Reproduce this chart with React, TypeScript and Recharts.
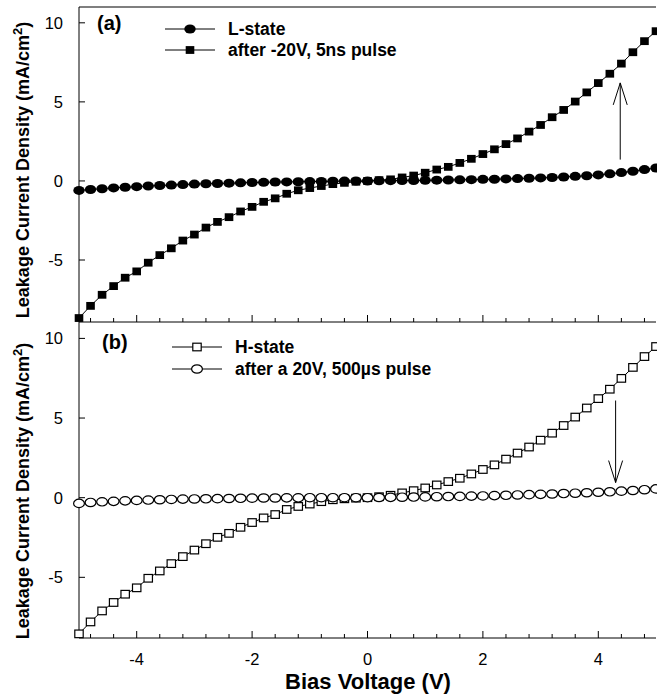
import React from "react"
import { LineChart, Line, XAxis, YAxis, ReferenceLine } from "recharts"

// bias voltage sweep (V)
const voltages = [
  -5, -4.8, -4.6, -4.4, -4.2, -4, -3.8, -3.6, -3.4, -3.2, -3, -2.8, -2.6, -2.4, -2.2, -2,
  -1.8, -1.6, -1.4, -1.2, -1, -0.8, -0.6, -0.4, -0.2, 0, 0.2, 0.4, 0.6, 0.8, 1, 1.2, 1.4,
  1.6, 1.8, 2, 2.2, 2.4, 2.6, 2.8, 3, 3.2, 3.4, 3.6, 3.8, 4, 4.2, 4.4, 4.6, 4.8, 5,
]

// panel (a), mA/cm^2
const lState = [
  -0.6, -0.54, -0.49, -0.44, -0.4, -0.36, -0.32, -0.29, -0.26, -0.23, -0.2, -0.18, -0.16,
  -0.14, -0.12, -0.1, -0.09, -0.07, -0.06, -0.05, -0.04, -0.03, -0.02, -0.01, 0, 0, 0.01,
  0.02, 0.03, 0.03, 0.04, 0.05, 0.06, 0.07, 0.08, 0.1, 0.11, 0.13, 0.15, 0.17, 0.19, 0.22,
  0.25, 0.29, 0.33, 0.38, 0.45, 0.53, 0.61, 0.72, 0.82,
]
const afterNs = [
  -8.67, -7.9, -7.2, -6.65, -6.12, -5.72, -5.17, -4.69, -4.26, -3.77, -3.39, -2.95, -2.59,
  -2.29, -1.93, -1.64, -1.32, -1.1, -0.81, -0.59, -0.45, -0.32, -0.2, -0.12, -0.05, 0,
  0.05, 0.1, 0.22, 0.34, 0.52, 0.72, 0.89, 1.14, 1.4, 1.7, 2.0, 2.33, 2.69, 3.12, 3.54,
  4.03, 4.49, 5.02, 5.6, 6.19, 6.78, 7.42, 8.14, 8.84, 9.47,
]

// panel (b), mA/cm^2
const hState = [
  -8.55, -7.8, -7.11, -6.58, -6.06, -5.66, -5.06, -4.6, -4.14, -3.7, -3.29, -2.89, -2.49,
  -2.24, -1.86, -1.56, -1.27, -1.06, -0.74, -0.55, -0.4, -0.25, -0.13, -0.07, -0.03, 0,
  0.06, 0.15, 0.3, 0.44, 0.61, 0.8, 1.01, 1.22, 1.49, 1.77, 2.06, 2.42, 2.8, 3.18, 3.61,
  4.05, 4.53, 5.06, 5.63, 6.22, 6.81, 7.49, 8.18, 8.86, 9.49,
]
const afterUs = [
  -0.36, -0.3, -0.26, -0.23, -0.2, -0.17, -0.15, -0.13, -0.11, -0.09, -0.08, -0.07, -0.06,
  -0.05, -0.04, -0.03, -0.02, -0.02, -0.01, -0.01, 0, 0, 0, 0, 0, 0, 0.01, 0.02, 0.03,
  0.04, 0.05, 0.06, 0.07, 0.08, 0.1, 0.11, 0.13, 0.15, 0.17, 0.19, 0.21, 0.23, 0.26, 0.28,
  0.31, 0.34, 0.37, 0.41, 0.45, 0.5, 0.55,
]

const xTicks = [
  -4.8, -4.4, -4, -3.6, -3.2, -2.8, -2.4, -2, -1.6, -1.2, -0.8, -0.4, 0, 0.4, 0.8, 1.2, 1.6,
  2, 2.4, 2.8, 3.2, 3.6, 4, 4.4, 4.8,
]
const xLabels = [-4, -2, 0, 2, 4]
const yTicks = [-5, 0, 5, 10]
const yDomainA = [-8.92, 11.0]
const yDomainB = [-8.81, 11.03]

const dataA = voltages.map((v, i) => ({ v, l: lState[i], p: afterNs[i] }))
const dataB = voltages.map((v, i) => ({ v, h: hState[i], p: afterUs[i] }))

const font = "'Liberation Sans', Arial, sans-serif"
const Y_MARGIN = 16

const solidCircle = (p: any) => (
  <ellipse key={p.index} cx={p.cx} cy={p.cy} rx={5.7} ry={4.5} fill="#000" />
)
const solidSquare = (p: any) => (
  <rect key={p.index} x={p.cx - 4.3} y={p.cy - 3.9} width={8.6} height={7.8} fill="#000" />
)
const openCircle = (p: any) => (
  <ellipse key={p.index} cx={p.cx} cy={p.cy} rx={5.4} ry={4.2} fill="#fff" stroke="#000" strokeWidth={1.2} />
)
const openSquare = (p: any) => (
  <rect key={p.index} x={p.cx - 4.2} y={p.cy - 3.8} width={8.4} height={7.6} fill="#fff" stroke="#000" strokeWidth={1.2} />
)

const xTick = (showLabel: boolean) => (p: any) => {
  const v = p.payload.value
  const major = xLabels.some((m) => Math.abs(m - v) < 1e-6)
  return (
    <g>
      <line x1={p.x} x2={p.x} y1={p.y} y2={p.y - (major ? 7 : 4)} stroke="#000" />
      {showLabel && major && (
        <text x={p.x} y={p.y + 27} textAnchor="middle" fontFamily={font} fontSize={16.5} fill="#000">
          {v}
        </text>
      )}
    </g>
  )
}

const yTick = (p: any) => (
  <g>
    <line x1={p.x + Y_MARGIN} x2={p.x + Y_MARGIN + 6} y1={p.y} y2={p.y} stroke="#000" />
    <text x={p.x} y={p.y + 6} textAnchor="end" fontFamily={font} fontSize={16.5} fill="#000">
      {p.payload.value}
    </text>
  </g>
)

const arrow = (p: any) => {
  const { x1, y1, x2, y2 } = p
  const len = Math.hypot(x2 - x1, y2 - y1) || 1
  const ux = (x2 - x1) / len
  const uy = (y2 - y1) / len
  const hx = x2 - ux * 22
  const hy = y2 - uy * 22
  return (
    <g stroke="#000" strokeWidth={1} fill="none">
      <line x1={x1} y1={y1} x2={x2} y2={y2} />
      <polyline points={`${hx - uy * 7},${hy + ux * 7} ${x2},${y2} ${hx + uy * 7},${hy - ux * 7}`} />
    </g>
  )
}

function LegendRow({ x, y, text, marker }: { x: number; y: number; text: string; marker: any }) {
  return (
    <g>
      <line x1={x} x2={x + 50} y1={y} y2={y} stroke="#000" />
      {marker({ cx: x + 25, cy: y, index: 0 })}
      <text x={x + 63} y={y + 6} fontFamily={font} fontWeight="bold" fontSize={17.5} fill="#000">
        {text}
      </text>
    </g>
  )
}

function YLabel({ cy }: { cy: number }) {
  return (
    <text
      transform={`translate(29, ${cy}) rotate(-90)`}
      textAnchor="middle"
      fontFamily={font}
      fontWeight="bold"
      fontSize={18}
      fill="#000"
    >
      Leakage Current Density (mA/cm
      <tspan dy={-7} fontSize={13}>2</tspan>
      <tspan dy={7}>)</tspan>
    </text>
  )
}

export default function App() {
  return (
    <div style={{ position: "absolute", left: 0, top: 0, width: 657, height: 695, overflow: "hidden", background: "#fff" }}>
      <div style={{ position: "absolute", left: 0, top: 0 }}>
        <LineChart width={700} height={330} data={dataA} margin={{ top: 7, right: 44, bottom: 0, left: 29 }}>
          <XAxis
            dataKey="v"
            type="number"
            domain={[-5, 5]}
            ticks={xTicks}
            interval={0}
            height={8}
            tickSize={0}
            tickMargin={0}
            tick={xTick(false)}
            axisLine={{ stroke: "#000" }}
          />
          <YAxis
            type="number"
            domain={yDomainA}
            ticks={yTicks}
            interval={0}
            width={50}
            tickSize={0}
            tickMargin={Y_MARGIN}
            tick={yTick}
            axisLine={{ stroke: "#000" }}
          />
          {/* top frame of panel (a) */}
          <ReferenceLine y={yDomainA[1]} stroke="#000" strokeWidth={1.2} ifOverflow="extendDomain" />
          <Line dataKey="p" stroke="#000" strokeWidth={1} dot={solidSquare} isAnimationActive={false} />
          <Line dataKey="l" stroke="#000" strokeWidth={1} dot={solidCircle} isAnimationActive={false} />
          <ReferenceLine segment={[{ x: 4.38, y: 1.35 }, { x: 4.38, y: 6.2 }]} shape={arrow} ifOverflow="visible" />
        </LineChart>
      </div>
      <div style={{ position: "absolute", left: 0, top: 0 }}>
        <LineChart width={700} height={695} data={dataB} margin={{ top: 322, right: 44, bottom: 0, left: 29 }}>
          <XAxis
            dataKey="v"
            type="number"
            domain={[-5, 5]}
            ticks={xTicks}
            interval={0}
            height={57}
            tickSize={0}
            tickMargin={0}
            tick={xTick(true)}
            axisLine={{ stroke: "#000" }}
          />
          <YAxis
            type="number"
            domain={yDomainB}
            ticks={yTicks}
            interval={0}
            width={50}
            tickSize={0}
            tickMargin={Y_MARGIN}
            tick={yTick}
            axisLine={{ stroke: "#000" }}
          />
          <Line dataKey="h" stroke="#000" strokeWidth={1} dot={openSquare} isAnimationActive={false} />
          <Line dataKey="p" stroke="#000" strokeWidth={1} dot={openCircle} isAnimationActive={false} />
          <ReferenceLine segment={[{ x: 4.3, y: 6.1 }, { x: 4.3, y: 0.95 }]} shape={arrow} ifOverflow="visible" />
        </LineChart>
      </div>
      <svg width={657} height={695} style={{ position: "absolute", left: 0, top: 0, pointerEvents: "none" }}>
        <text x={97} y={30} fontFamily={font} fontWeight="bold" fontSize={20} fill="#000">(a)</text>
        <text x={102} y={349} fontFamily={font} fontWeight="bold" fontSize={20} fill="#000">(b)</text>
        <LegendRow x={165} y={29} text="L-state" marker={solidCircle} />
        <LegendRow x={165} y={50} text="after -20V, 5ns pulse" marker={solidSquare} />
        <LegendRow x={172} y={347} text="H-state" marker={openSquare} />
        <LegendRow x={172} y={369} text="after a 20V, 500µs pulse" marker={openCircle} />
        <YLabel cy={170} />
        <YLabel cy={491} />
        <text x={368} y={689} textAnchor="middle" fontFamily={font} fontWeight="bold" fontSize={22} fill="#000">
          Bias Voltage (V)
        </text>
      </svg>
    </div>
  )
}
